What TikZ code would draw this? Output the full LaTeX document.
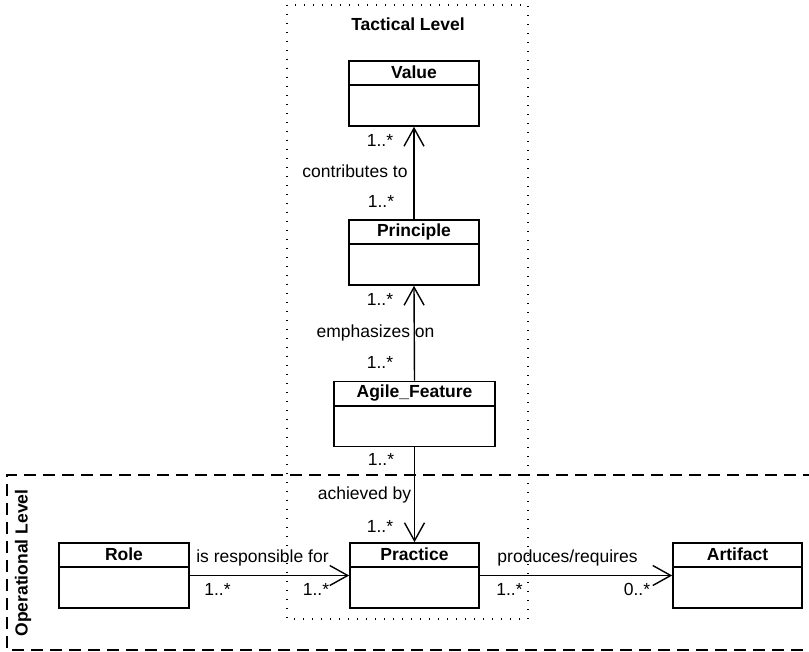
\documentclass[tikz,border=0pt]{standalone}
\usepackage{fontspec}
\setmainfont{Liberation Sans}
\usetikzlibrary{arrows.meta}

\tikzset{
  x=1bp, y=-1bp,
  classbox/.style={draw, line width=1.6bp, minimum height=65bp, inner sep=0pt},
  classtitle/.style={font=\fontsize{17.5bp}{20bp}\selectfont\bfseries, inner sep=0pt},
  classline/.style={line width=1.6bp},
  assoc/.style={line width=1.4bp, -{Straight Barb[length=18bp,width=20bp,line width=1.4bp]}},
  lbl/.style={font=\fontsize{17.5bp}{20bp}\selectfont, inner sep=0pt},
  baselbl/.style={lbl, anchor=base},
  levellbl/.style={font=\fontsize{17.5bp}{20bp}\selectfont\bfseries, inner sep=0pt},
  tacticalframe/.style={line width=1.3bp, dash pattern=on 1.4bp off 7.6bp},
  operationalframe/.style={line width=1.2bp, dash pattern=on 12bp off 7bp},
}

% \umlclass{name}{centre}{width}{title}: class box with a title compartment
\newcommand{\umlclass}[4]{%
  \node[classbox, minimum width=#3] (#1) at (#2) {};
  \node[classtitle] (#1-title) at ([yshift=-12.5bp]#1.north) {#4};
  \draw[classline] ([yshift=-25bp]#1.north west) -- ([yshift=-25bp]#1.north east);
}

\begin{document}
\begin{tikzpicture}
\useasboundingbox (0,0) rectangle (809,652);

% level frames
\draw[tacticalframe] (287,5) rectangle (528,619);
\draw[operationalframe] (815,475) -- (7,475) -- (7,650) -- (815,650);
\node[levellbl] (tactical) at (408,24) {Tactical Level};
\node[levellbl, rotate=90] (operational) at (23,563) {Operational Level};

% classes
\umlclass{value}{414,93.5}{130bp}{Value}
\umlclass{principle}{414,252.5}{130bp}{Principle}
\umlclass{feature}{414.5,414}{161bp}{Agile\_Feature}
\umlclass{practice}{414.5,575.5}{129bp}{Practice}
\umlclass{role}{124,575.5}{130bp}{Role}
\umlclass{artifact}{737.5,575.5}{129bp}{Artifact}

% associations
\draw[assoc] (principle.north) -- (value.south);
\draw[assoc] (feature.north) -- (principle.south);
\draw[assoc] (feature.south) -- (practice.north);
\draw[assoc] (role.east) -- (practice.west);
\draw[assoc] (practice.east) -- (artifact.west);

% association names and multiplicities
\node[lbl] (m1) at (380,140) {1..*};
\node[baselbl] (contrib) at (355,177) {contributes to};
\node[lbl] (m2) at (381,201) {1..*};

\node[lbl] (m3) at (380,299) {1..*};
\node[baselbl] (emph) at (375.5,337) {emphasizes on};
\node[lbl] (m4) at (380,362) {1..*};

\node[lbl] (m5) at (381,459) {1..*};
\node[baselbl] (achieved) at (364.5,499) {achieved by};
\node[lbl] (m6) at (380,526) {1..*};

\node[baselbl] (resp) at (262.5,562) {is responsible for};
\node[lbl] (m7) at (217.5,589) {1..*};
\node[lbl] (m8) at (316,589) {1..*};

\node[baselbl] (prod) at (567.5,562) {produces/requires};
\node[lbl] (m9) at (509.5,589) {1..*};
\node[lbl] (m10) at (637,589) {0..*};
\end{tikzpicture}
\end{document}
